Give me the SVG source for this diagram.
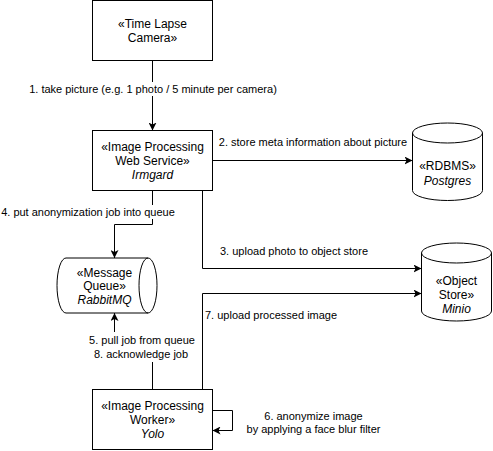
<svg xmlns="http://www.w3.org/2000/svg" width="493" height="451" viewBox="0 0 493 451">
<style>
.box{fill:#fff;stroke:#000;stroke-width:1}
.shape{fill:#fff;stroke:#000;stroke-width:1}
.inner{fill:none;stroke:#000;stroke-width:1}
.t{font-family:"Liberation Sans",Arial,Helvetica,sans-serif;font-size:12px;fill:#000;text-anchor:middle}
.i{font-style:italic}
.e{fill:none;stroke:#000;stroke-width:1}
.l{font-family:"Liberation Sans",Arial,Helvetica,sans-serif;font-size:11px;fill:#000;text-anchor:middle}
.ls{text-anchor:start}
.bg{fill:#fff;stroke:none}
</style>
<defs>
<marker id="arr" viewBox="0 0 8 8" refX="8" refY="4" markerWidth="8" markerHeight="8" markerUnits="userSpaceOnUse" orient="auto">
<path d="M0,0 L8,4 L0,8 L2,4 z" fill="#000"/>
</marker>
</defs>
<rect width="493" height="451" fill="#fff"/>

<g id="connectors">
<path class="e" d="M152.5,60.5 V130.5" marker-end="url(#arr)"/>
<path class="e" d="M212.5,160.5 H412.5" marker-end="url(#arr)"/>
<path class="e" d="M202.5,190.5 V268.5 H421.5" marker-end="url(#arr)"/>
<path class="e" d="M152.5,190.5 V224.5 H114.5 V258" marker-end="url(#arr)"/>
<path class="e" d="M152.5,389.5 V351 H114.5 V313" marker-end="url(#arr)"/>
<path class="e" d="M202.5,389.5 V293.5 H421.5" marker-end="url(#arr)"/>
<path class="e" d="M212.5,410.5 H232.5 V430.5 H212.5" marker-end="url(#arr)"/>

<rect class="bg" x="29" y="82" width="250" height="14"/>
<text class="l" x="153" y="92.5">1. take picture (e.g. 1 photo / 5 minute per camera)</text>
<text class="l" x="313" y="146">2. store meta information about picture</text>
<text class="l ls" x="220" y="255">3. upload photo to object store</text>
<rect class="bg" x="0" y="205" width="176" height="14"/>
<text class="l" x="88" y="216">4. put anonymization job into queue</text>
<rect class="bg" x="88" y="332" width="108" height="30"/>
<text class="l" x="142" y="344">5. pull job from queue</text>
<text class="l" x="141" y="358">8. acknowledge job</text>
<text class="l" x="313.5" y="419.5">6. anonymize image</text>
<text class="l" x="313.5" y="433">by applying a face blur filter</text>
<text class="l ls" x="205" y="319">7. upload processed image</text>
</g>

<g id="node-camera">
<rect class="box" x="92.5" y="0.5" width="120" height="60"/>
<text class="t" x="152.5" y="27.5">«Time Lapse</text>
<text class="t" x="152.5" y="41.5">Camera»</text>
</g>

<g id="node-webservice">
<rect class="box" x="92.5" y="130.5" width="120" height="60"/>
<text class="t" x="152.5" y="150.5">«Image Processing</text>
<text class="t" x="152.5" y="164.5">Web Service»</text>
<text class="t i" x="152.5" y="178.5">Irmgard</text>
</g>

<g id="node-rdbms">
<path class="shape" d="M412.5,133 A35,10 0 0 1 482.5,133 V190.5 A35,10 0 0 1 412.5,190.5 Z"/>
<path class="inner" d="M412.5,133 A35,10 0 0 0 482.5,133"/>
<text class="t" x="447.5" y="170">«RDBMS»</text>
<text class="t i" x="447.5" y="184.5">Postgres</text>
</g>

<g id="node-objectstore">
<path class="shape" d="M421.5,253 A35,10 0 0 1 491.5,253 V311 A35,10 0 0 1 421.5,311 Z"/>
<path class="inner" d="M421.5,253 A35,10 0 0 0 491.5,253"/>
<text class="t" x="456.5" y="284.5">«Object</text>
<text class="t" x="456.5" y="298.5">Store»</text>
<text class="t i" x="456.5" y="312.5">Minio</text>
</g>

<g id="node-queue">
<path class="shape" d="M66,258 H148 A9,27.5 0 0 1 148,313 H66 A9,27.5 0 0 1 66,258 Z"/>
<path class="inner" d="M148,258 A9,27.5 0 0 0 148,313"/>
<text class="t" x="104.5" y="276.5">«Message</text>
<text class="t" x="104.5" y="290">Queue»</text>
<text class="t i" x="104.5" y="304">RabbitMQ</text>
</g>

<g id="node-worker">
<rect class="box" x="92.5" y="389.5" width="120" height="60"/>
<text class="t" x="152.5" y="409.5">«Image Processing</text>
<text class="t" x="152.5" y="423.5">Worker»</text>
<text class="t i" x="152.5" y="437.5">Yolo</text>
</g>
</svg>
